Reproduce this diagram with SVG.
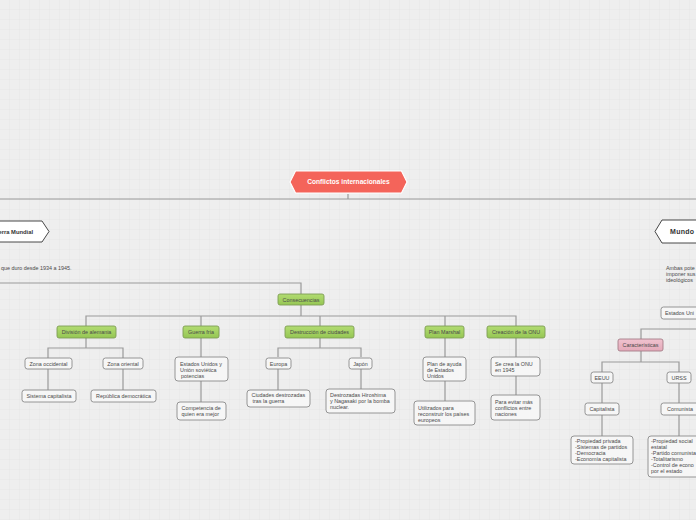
<svg xmlns="http://www.w3.org/2000/svg" width="696" height="520" viewBox="0 0 696 520">
<defs>
<pattern id="grid" width="10" height="10" patternUnits="userSpaceOnUse">
<rect width="10" height="10" fill="#eeeeee"/>
<path d="M10 0V10M0 10H10" stroke="#e3e3e3" stroke-width="0.8" fill="none"/>
</pattern>
<linearGradient id="gr" x1="0" y1="0" x2="0" y2="1">
<stop offset="0" stop-color="#b2dc72"/>
<stop offset="1" stop-color="#95c653"/>
</linearGradient>
<linearGradient id="pk" x1="0" y1="0" x2="0" y2="1">
<stop offset="0" stop-color="#f0c3cf"/>
<stop offset="1" stop-color="#e4a9b9"/>
</linearGradient>
</defs>
<style>
text{font-family:"Liberation Sans",Arial,sans-serif;font-size:5.4px;fill:#4a4a4a}
.c{text-anchor:middle}
.w rect{fill:#f6f6f6;stroke:#8a8a8a;stroke-width:0.9}
.g rect{fill:url(#gr);stroke:#7e9c55;stroke-width:0.9}
.p rect{fill:url(#pk);stroke:#a57d88;stroke-width:0.9}
.con path{fill:none;stroke:#9a9a9a;stroke-width:1.2}
</style>
<rect width="696" height="520" fill="url(#grid)"/>

<g class="con">
<path d="M0 199H696" stroke="#8c8c8c" stroke-width="2"/>
<path d="M348 194V199" stroke="#333" stroke-width="0.8"/>
<path d="M0 283H301V294" stroke="#8c8c8c"/>
<path d="M301 305V316M86 326V316H516V326M201 316V326M320 316V326M445 316V326"/>
<path d="M86 338V348M48 358V348H123V358M48 369V390M123 369V390"/>
<path d="M201 338V357M201 381V402"/>
<path d="M320 338V348M278 357V348H361V357M278 369V390M361 369V389"/>
<path d="M445 338V357M445 381V401"/>
<path d="M516 338V357M516 376V395"/>
<path d="M700 329H641V339M641 351V362M602 372V362H679V372M602 383V403M679 383V403M602 415V436M679 415V436"/>
</g>

<g id="conflictos">
<polygon points="290,182 295.5,171 401.5,171 407,182 401.5,193 295.5,193" fill="#f4645a" stroke="#ffffff" stroke-width="1.2"/>
<text x="348.5" y="184.2" class="c" style="font-size:6.6px;font-weight:bold;fill:#ffffff">Conflictos internacionales</text>
</g>

<g id="segunda-guerra">
<polygon points="-10,221 42,221 49,231.5 42,242 -10,242" fill="#ffffff" stroke="#333" stroke-width="0.9"/>
<text x="33" y="233.5" style="font-size:5.8px;font-weight:bold;fill:#333;text-anchor:end">erra Mundial</text>
</g>
<text x="1" y="270">que duro desde 1934 a 1945.</text>

<g id="mundo">
<polygon points="655,231.5 662,220 710,220 710,243 662,243" fill="#ffffff" stroke="#333" stroke-width="0.9"/>
<text x="670" y="234" style="font-size:7px;font-weight:bold;fill:#333;letter-spacing:0.3px">Mundo</text>
</g>
<text x="666" y="270">Ambas pote</text>
<text x="666" y="276">imponer sus</text>
<text x="666" y="282">ideológicos</text>

<g id="estados-uni" class="w"><rect x="661" y="307" width="50" height="12" rx="2.5"/><text x="665" y="315">Estados Uni</text></g>

<g id="consecuencias" class="g"><rect x="278" y="294" width="46" height="11" rx="2"/><text x="301" y="301.5" class="c">Consecuencias</text></g>
<g id="division" class="g"><rect x="57" y="326" width="59" height="12" rx="2"/><text x="86.5" y="334" class="c">División de alemania</text></g>
<g id="guerra-fria" class="g"><rect x="183" y="326" width="36" height="12" rx="2"/><text x="201" y="334" class="c">Guerra fría</text></g>
<g id="destruccion" class="g"><rect x="285" y="326" width="69" height="12" rx="2"/><text x="319.5" y="334" class="c">Destrucción de ciudades</text></g>
<g id="plan-marshal" class="g"><rect x="425" y="326" width="39" height="12" rx="2"/><text x="444.5" y="334" class="c">Plan Marshal</text></g>
<g id="onu" class="g"><rect x="487" y="326" width="58" height="12" rx="2"/><text x="516" y="334" class="c">Creación de la ONU</text></g>

<g id="zona-occ" class="w"><rect x="25" y="358" width="47" height="11" rx="2.5"/><text x="48.5" y="365.5" class="c">Zona occidental</text></g>
<g id="zona-or" class="w"><rect x="103" y="358" width="40" height="11" rx="2.5"/><text x="123" y="365.5" class="c">Zona oriental</text></g>
<g id="sist-cap" class="w"><rect x="22" y="390" width="54" height="12" rx="2.5"/><text x="49" y="398" class="c">Sistema capitalista</text></g>
<g id="rep-dem" class="w"><rect x="91" y="390" width="65" height="12" rx="2.5"/><text x="123.5" y="398" class="c">República democrática</text></g>

<g id="eeuu-urss-pot" class="w"><rect x="175" y="357" width="53" height="24" rx="3"/><text x="180" y="365.5">Estados Unidos y</text><text x="180" y="371.5">Unión soviética</text><text x="181" y="377.5">potencias</text></g>
<g id="competencia" class="w"><rect x="177" y="402" width="49" height="18" rx="3"/><text x="181.5" y="410">Competencia de</text><text x="181.5" y="416">quien era mejor</text></g>

<g id="europa" class="w"><rect x="266" y="358" width="25" height="11" rx="2.5"/><text x="278.5" y="365.5" class="c">Europa</text></g>
<g id="japon" class="w"><rect x="349" y="358" width="23" height="11" rx="2.5"/><text x="360.5" y="365.5" class="c">Japón</text></g>
<g id="ciudades" class="w"><rect x="247" y="390" width="63" height="17" rx="3"/><text x="251.5" y="397">Ciudades destrozadas</text><text x="252.5" y="403">tras la guerra</text></g>
<g id="hiroshima" class="w"><rect x="326" y="389" width="69" height="24" rx="3"/><text x="330" y="397">Destrozadas Hiroshima</text><text x="330" y="403">y Nagasaki por la bomba</text><text x="330" y="409">nuclear.</text></g>

<g id="plan-ayuda" class="w"><rect x="423" y="357" width="43" height="24" rx="3"/><text x="427" y="365.5">Plan de ayuda</text><text x="427" y="371.5">de Estados</text><text x="427" y="377.5">Unidos</text></g>
<g id="utilizados" class="w"><rect x="414" y="401" width="61" height="24" rx="3"/><text x="418" y="409.5">Utilizados para</text><text x="418" y="415.5">reconstruir los países</text><text x="418" y="421.5">europeos</text></g>

<g id="se-crea" class="w"><rect x="491" y="357" width="49" height="19" rx="3"/><text x="495" y="365.5">Se crea la ONU</text><text x="495" y="371.5">en 1945</text></g>
<g id="para-evitar" class="w"><rect x="491" y="395" width="49" height="25" rx="3"/><text x="495" y="403.5">Para evitar más</text><text x="495" y="409.5">conflictos entre</text><text x="495" y="415.5">naciones</text></g>

<g id="caracteristicas" class="p"><rect x="618" y="339" width="45" height="12" rx="2"/><text x="640.5" y="347" class="c">Características</text></g>
<g id="eeuu" class="w"><rect x="591" y="372" width="22" height="11" rx="2.5"/><text x="602" y="379.5" class="c">EEUU</text></g>
<g id="urss" class="w"><rect x="667" y="372" width="24" height="11" rx="2.5"/><text x="679" y="379.5" class="c">URSS</text></g>
<g id="capitalista" class="w"><rect x="585" y="403" width="34" height="12" rx="2.5"/><text x="602" y="411" class="c">Capitalista</text></g>
<g id="comunista" class="w"><rect x="661" y="403" width="40" height="12" rx="2.5"/><text x="680" y="411" class="c">Comunista</text></g>
<g id="cap-list" class="w"><rect x="571" y="436" width="62" height="28" rx="3"/><text x="575" y="443">-Propiedad privada</text><text x="575" y="449">-Sistemas de partidos</text><text x="575" y="455">-Democracia</text><text x="575" y="461">-Economía capitalista</text></g>
<g id="com-list" class="w"><rect x="648" y="436" width="60" height="41" rx="3"/><text x="651" y="443">-Propiedad social</text><text x="651" y="449">estatal</text><text x="651" y="455">-Partido comunista</text><text x="651" y="461">-Totalitarismo</text><text x="651" y="467">-Control de econo</text><text x="651" y="473">por el estado</text></g>
</svg>
